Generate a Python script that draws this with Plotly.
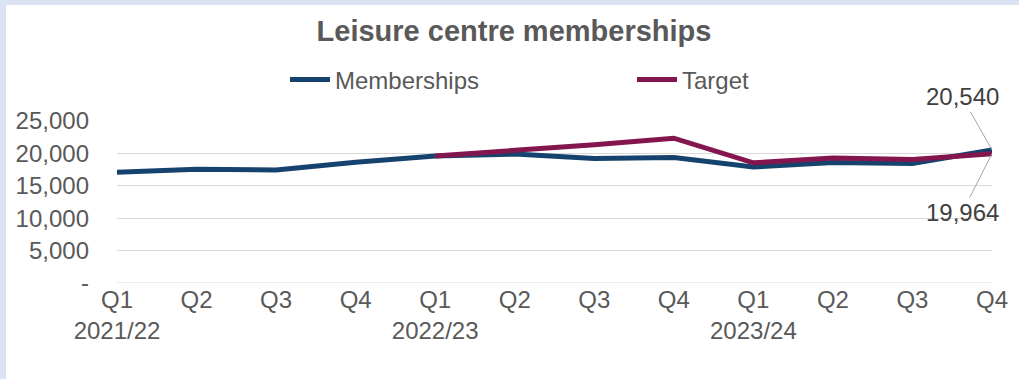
import plotly.graph_objects as go

quarters = ["Q1", "Q2", "Q3", "Q4", "Q1", "Q2", "Q3", "Q4", "Q1", "Q2", "Q3", "Q4"]
years = ["2021/22", "", "", "", "2022/23", "", "", "", "2023/24", "", "", ""]
memberships = [17100, 17550, 17450, 18650, 19600, 19900, 19200, 19350, 17900, 18600, 18450, 20540]
target = [None, None, None, None, 19600, 20400, 21350, 22350, 18550, 19300, 19050, 19964]
y_ticks = [0, 5000, 10000, 15000, 20000, 25000]
y_tick_labels = ["-", "5,000", "10,000", "15,000", "20,000", "25,000"]

W, H = 1019, 379
L, R, T, B = 117, 27, 121, 96
pw, ph = W - L - R, H - T - B

x = list(range(len(quarters)))
tick_text = [f"{q}<br>{y}" if y else q for q, y in zip(quarters, years)]

fig = go.Figure()
fig.add_trace(go.Scatter(x=x, y=memberships, name="Memberships", mode="lines",
                         line=dict(color="#16436e", width=5)))
fig.add_trace(go.Scatter(x=x, y=target, name="Target", mode="lines",
                         line=dict(color="#84164f", width=5)))

font = "Liberation Sans, Arial, sans-serif"
fig.update_layout(
    width=W, height=H,
    margin=dict(l=L, r=R, t=T, b=B),
    paper_bgcolor="white", plot_bgcolor="white",
    font=dict(family=font, size=24, color="#595959"),
    title=dict(text="<b>Leisure centre memberships</b>", x=(514 - L) / pw, xref="paper",
               xanchor="center", y=1 - 31 / H, yanchor="middle",
               font=dict(size=29, color="#595959")),
    legend=dict(orientation="h", x=(632 - L) / pw, xanchor="center",
                y=1 + (T - 80) / ph, yanchor="middle",
                font=dict(size=24, color="#595959"), itemwidth=40,
                entrywidth=292, entrywidthmode="pixels", tracegroupgap=0,
                bgcolor="rgba(0,0,0,0)"),
    showlegend=True,
)
fig.update_xaxes(tickmode="array", tickvals=x, ticktext=tick_text, range=[0, len(x) - 1],
                 showgrid=False, zeroline=False, showline=False, ticks="",
                 tickfont=dict(size=24, color="#595959"))
fig.update_yaxes(tickmode="array", tickvals=y_ticks, ticktext=y_tick_labels, range=[0, 25000],
                 showgrid=True, gridcolor="#d9d9d9", gridwidth=1, zeroline=False,
                 showline=False, ticks="", ticklabelstandoff=27,
                 tickfont=dict(size=24, color="#595959"))

# baseline at zero
fig.add_shape(type="line", xref="paper", yref="y", x0=0, x1=1, y0=0, y1=0,
              line=dict(color="#d9d9d9", width=1), layer="below")

# light blue frame strips (top and left)
fig.add_shape(type="rect", xref="paper", yref="paper",
              x0=-L / pw, x1=(W - L) / pw, y0=1 + (T - 5) / ph, y1=1 + T / ph,
              fillcolor="#dae3f3", line=dict(width=0), layer="below")
fig.add_shape(type="rect", xref="paper", yref="paper",
              x0=-L / pw, x1=(6 - L) / pw, y0=-B / ph, y1=1 + T / ph,
              fillcolor="#dae3f3", line=dict(width=0), layer="below")

last = len(x) - 1
fig.add_annotation(x=last, y=memberships[last], text=f"{memberships[last]:,}",
                   showarrow=True, arrowhead=0, arrowwidth=1, arrowcolor="#a6a6a6",
                   ax=-30, ay=-53, font=dict(size=24, color="#404040"))
fig.add_annotation(x=last, y=target[last], text=f"{target[last]:,}",
                   showarrow=True, arrowhead=0, arrowwidth=1, arrowcolor="#a6a6a6",
                   ax=-30, ay=59, font=dict(size=24, color="#404040"))

fig.write_html("out.html")
